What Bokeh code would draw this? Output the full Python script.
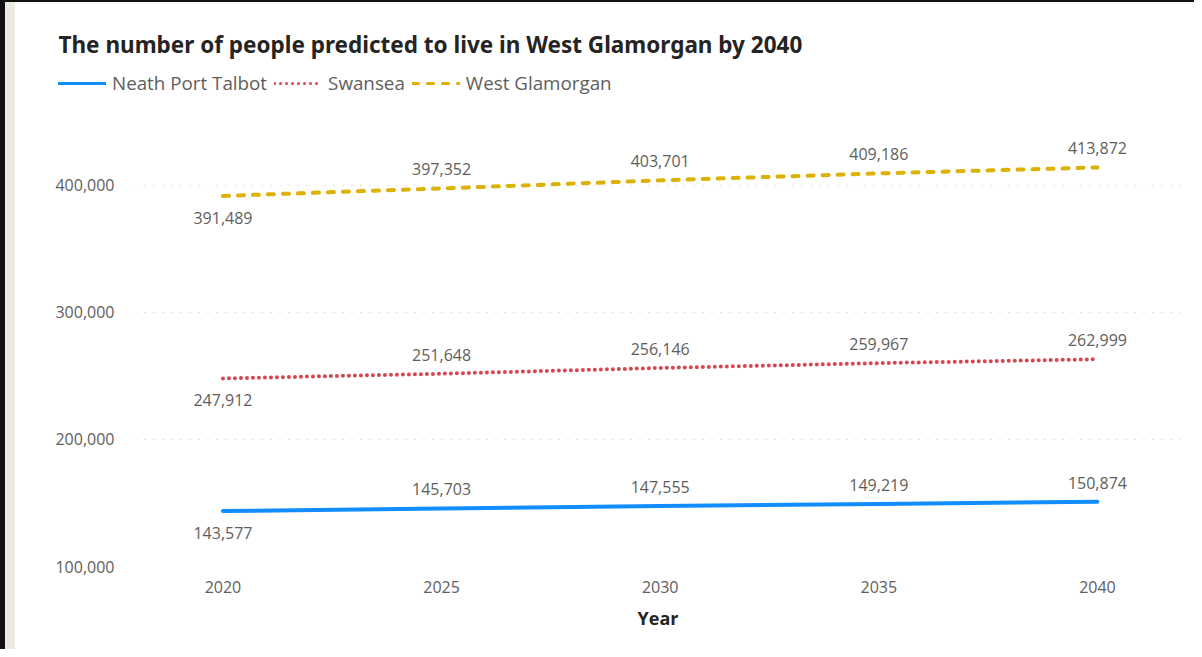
from bokeh.plotting import figure
from bokeh.models import (ColumnDataSource, Legend, LegendItem, Label, FixedTicker,
                          NumeralTickFormatter, Range1d)
from bokeh.layouts import column, row
from bokeh.embed import file_html
from bokeh.resources import INLINE
from bokeh.core.properties import value

years = [2020, 2025, 2030, 2035, 2040]
neath = [143577, 145703, 147555, 149219, 150874]
swansea = [247912, 251648, 256146, 259967, 262999]
west = [391489, 397352, 403701, 409186, 413872]
series_names = ["Neath Port Talbot", "Swansea", "West Glamorgan"]
y_ticks = [100000, 200000, 300000, 400000]
x_ticks = [2020, 2025, 2030, 2035, 2040]
title_text = "The number of people predicted to live in West Glamorgan by 2040"

colors = ["#118DFF", "#D64550", "#DDB100"]
dashes = ["solid", "0 6", "6 9"]

FONT = "Open Sans"
GRAY = "#605E5C"
DARK = "#252423"

# ---- header figure: title + legend ----
head = figure(width=1179, height=98, output_backend="svg", toolbar_location=None, tools="",
              x_range=Range1d(0, 1), y_range=Range1d(0, 1),
              x_axis_type=None, y_axis_type=None,
              min_border_left=43, min_border_right=0, min_border_top=0, min_border_bottom=0)
head.outline_line_color = None
head.xgrid.visible = False
head.ygrid.visible = False

# ---- main figure ----
p = figure(width=1179, height=549, output_backend="svg", toolbar_location=None, tools="",
           x_range=Range1d(2018.0, 2041.9), y_range=Range1d(100000, 450000),
           min_border_left=120, min_border_right=14, min_border_top=21, min_border_bottom=83)
p.outline_line_color = None

items = []
for name, vals, c, d in zip(series_names, [neath, swansea, west], colors, dashes):
    src = ColumnDataSource(dict(x=years, y=vals,
                                lab=[f"{v:,}" for v in vals],
                                off=[22 if i == 0 else -19 for i in range(len(vals))]))
    p.line("x", "y", source=src, line_color=c, line_width=4, line_dash=d, line_cap="round")
    p.text("x", "y", text="lab", source=src, y_offset="off", text_align="center",
           text_baseline="middle", text_font=value(FONT), text_font_size="16px", text_color=GRAY)
    # same series in the header (outside its view) so the legend can show its line style
    r = head.line("x", "y", source=src, line_color=c, line_width=3, line_dash=d, line_cap="round")
    items.append(LegendItem(label=name, renderers=[r]))

legend = Legend(items=items, orientation="horizontal", location=(0, 4),
                glyph_width=48, glyph_height=20, label_height=20, label_standoff=6, spacing=7,
                padding=0, margin=0, border_line_color=None, background_fill_alpha=0,
                label_text_font=FONT, label_text_font_size="18.8px", label_text_color=GRAY)
head.add_layout(legend)

head.add_layout(Label(x=0, y=56, x_units="screen", y_units="screen", text=title_text,
                      text_font="Noto Sans", text_font_size="22.5px", text_font_style="bold",
                      text_color=DARK, text_baseline="middle", text_align="left"))

p.xaxis.ticker = FixedTicker(ticks=x_ticks)
p.yaxis.ticker = FixedTicker(ticks=y_ticks)
p.yaxis.formatter = NumeralTickFormatter(format="0,0")
for ax in (p.xaxis[0], p.yaxis[0]):
    ax.axis_line_color = None
    ax.major_tick_line_color = None
    ax.minor_tick_line_color = None
    ax.major_label_text_font = FONT
    ax.major_label_text_font_size = "16px"
    ax.major_label_text_color = GRAY
p.yaxis.major_label_standoff = 15
p.xaxis.major_label_standoff = 8
p.xaxis.axis_label = "Year"
p.xaxis.axis_label_text_font = FONT
p.xaxis.axis_label_text_font_size = "18px"
p.xaxis.axis_label_text_font_style = "bold"
p.xaxis.axis_label_text_color = DARK
p.xaxis.axis_label_standoff = 10

p.xgrid.grid_line_color = None
p.ygrid.grid_line_color = "#C8C6C4"
p.ygrid.grid_line_dash = "1 8"
p.ygrid.grid_line_width = 1

layout = column(row(head), p, spacing=0,
                styles={"border-left": "5px solid #111111", "border-top": "2px solid #111111",
                        "padding-left": "10px",
                        "background": "linear-gradient(to right, #EDEAE1 10px, #FFFFFF 10px)"})
open("out.html", "w").write(file_html(layout, INLINE))
